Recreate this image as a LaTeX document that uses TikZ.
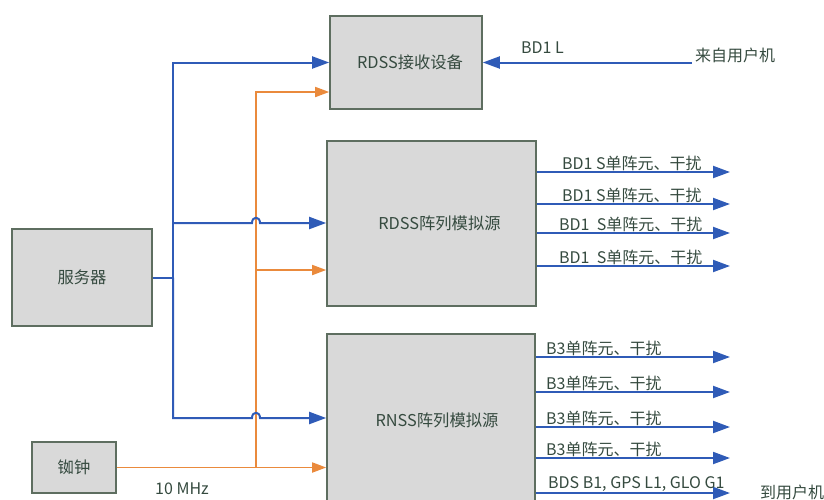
\documentclass[tikz,border=0pt]{standalone}
\usepackage{fontspec}
\setmainfont{Noto Sans CJK SC}
\usetikzlibrary{arrows.meta}
\definecolor{lblue}{HTML}{2F5BB7}
\definecolor{lorange}{HTML}{EA8A3C}
\definecolor{boxfill}{HTML}{D9D9D9}
\definecolor{boxline}{HTML}{5E6E60}
\definecolor{txt}{HTML}{354A3F}
\begin{document}
\begin{tikzpicture}[x=1pt,y=-1pt,
  box/.style={draw=boxline, line width=1.6pt, fill=boxfill, text=txt,
    font=\fontsize{16.3}{19}\selectfont, inner sep=0pt},
  bl/.style={draw=lblue, line width=2pt},
  bla/.style={bl, -{Triangle[length=17pt,width=12pt]}},
  orl/.style={draw=lorange, line width=1.7pt},
  ora/.style={orl, -{Triangle[length=14pt,width=10pt]}},
  lbl/.style={text=txt, font=\fontsize{16}{19}\selectfont, inner sep=0pt, anchor=base west}
]
\useasboundingbox (0,0) rectangle (824,499);

% boxes
\node[box, minimum width=140pt, minimum height=97pt] (srv) at (82,277.5) {服务器};
\node[box, minimum width=152pt, minimum height=93pt] (rb) at (406,62.5) {\hspace{8pt}RDSS接收设备};
\node[box, minimum width=209pt, minimum height=165pt] (ra) at (431.5,223.5) {\hspace{16pt}RDSS阵列模拟源};
\node[box, minimum width=208pt, minimum height=172pt] (rn) at (431,420) {\hspace{12pt}RNSS阵列模拟源};
\node[box, minimum width=84pt, minimum height=51pt] (clk) at (74,467.5) {铷钟};

% junctions
\coordinate (bj) at (173,277.5);
\coordinate (oj) at (256,467.5);

% orange (10 MHz) lines
\draw[ora] (clk.east) -- (rn.west |- clk.east);
\draw[ora] (oj) |- (rb.west |- 0,92);
\draw[ora] (256,270) -- (ra.west |- 0,270);

% blue lines from server
\draw[bl] (srv.east) -- (bj);
\draw[bla] (bj) |- (rb.west);
\draw[bla] (bj) |- (252,418) .. controls (252,411) and (260,411) .. (260,418) -- (rn.west |- 0,418);
\draw[bla] (173,223) -- (252,223) .. controls (252,216) and (260,216) .. (260,223) -- (ra.west |- 0,223);

% from user
\coordinate (usr) at (692,62.5);
\draw[bla] (usr) -- (rb.east);
\node[lbl] (lbd1l) at (521,53) {BD1 L};
\node[lbl] (lfrom) at (695,61) {来自用户机};

% RDSS array outputs
\foreach \y [count=\i] in {172,204,233,266}{
  \coordinate (ao\i) at (730,\y);
  \draw[bla] (ra.east |- ao\i) -- (ao\i);
}
\node[lbl] (la1) at (562,169.5) {BD1 S单阵元、干扰};
\node[lbl] (la2) at (562,201.5) {BD1 S单阵元、干扰};
\node[lbl] (la3) at (559,230.5) {BD1\ \ S单阵元、干扰};
\node[lbl] (la4) at (559,263.5) {BD1\ \ S单阵元、干扰};

% RNSS array outputs
\foreach \y [count=\i] in {357,392,427,458,493}{
  \coordinate (no\i) at (730,\y);
  \draw[bla] (rn.east |- no\i) -- (no\i);
}
\node[lbl] (lb1) at (546,354) {B3单阵元、干扰};
\node[lbl] (lb2) at (546,389) {B3单阵元、干扰};
\node[lbl] (lb3) at (546,424) {B3单阵元、干扰};
\node[lbl] (lb4) at (546,455) {B3单阵元、干扰};
\node[lbl] (lb5) at (548,488) {BDS B1, GPS L1, GLO G1};
\node[lbl] (lto) at (760,498) {到用户机};
\node[lbl] (l10) at (155,494) {10 MHz};
\end{tikzpicture}
\end{document}
